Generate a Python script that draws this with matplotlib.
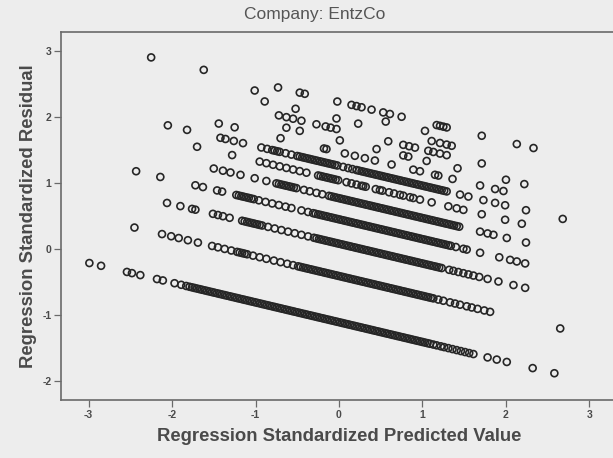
import matplotlib
matplotlib.use("Agg")
import matplotlib.pyplot as plt

plt.rcParams['font.family'] = ['Liberation Sans', 'DejaVu Sans']

title_text = "Company: EntzCo"
x_label = "Regression Standardized Predicted Value"
y_label = "Regression Standardized Residual"
x_ticks = [-3, -2, -1, 0, 1, 2, 3]
y_ticks = [-2, -1, 0, 1, 2, 3]

# Each band holds cases with the same observed score.
band_a_pred = [-2.99, -2.85, -2.54, -2.48, -2.38, -2.18, -2.11, -1.97, -1.89, -1.83,
               -1.79, -1.76, -1.73, -1.70, -1.67, -1.64, -1.61, -1.58, -1.55, -1.52,
               -1.49, -1.46, -1.43, -1.40, -1.37, -1.34, -1.31, -1.28, -1.25, -1.22,
               -1.19, -1.16, -1.13, -1.10, -1.07, -1.04, -1.01, -0.98, -0.95, -0.92,
               -0.89, -0.86, -0.83, -0.80, -0.77, -0.74, -0.71, -0.68, -0.65, -0.62,
               -0.59, -0.56, -0.53, -0.50, -0.47, -0.44, -0.41, -0.38, -0.35, -0.32,
               -0.29, -0.26, -0.23, -0.20, -0.17, -0.14, -0.11, -0.08, -0.05, -0.02,
               0.01, 0.04, 0.07, 0.10, 0.13, 0.16, 0.19, 0.22, 0.25, 0.28,
               0.31, 0.34, 0.37, 0.40, 0.43, 0.46, 0.49, 0.52, 0.55, 0.58,
               0.61, 0.64, 0.67, 0.70, 0.73, 0.76, 0.79, 0.82, 0.85, 0.88,
               0.91, 0.94, 0.97, 1.00, 1.03, 1.06, 1.09,
               1.13, 1.17, 1.22, 1.26, 1.31, 1.36, 1.41, 1.46, 1.51, 1.56,
               1.61, 1.78, 1.89, 2.01, 2.32, 2.58]
band_a_resid = [-0.213, -0.255, -0.348, -0.366, -0.396, -0.456, -0.477, -0.519, -0.543, -0.561,
                -0.573, -0.582, -0.591, -0.600, -0.609, -0.618, -0.627, -0.636, -0.645, -0.654,
                -0.663, -0.672, -0.681, -0.690, -0.699, -0.708, -0.717, -0.726, -0.735, -0.744,
                -0.753, -0.762, -0.771, -0.780, -0.789, -0.798, -0.807, -0.816, -0.825, -0.834,
                -0.843, -0.852, -0.861, -0.870, -0.879, -0.888, -0.897, -0.906, -0.915, -0.924,
                -0.933, -0.942, -0.951, -0.960, -0.969, -0.978, -0.987, -0.996, -1.005, -1.014,
                -1.023, -1.032, -1.041, -1.050, -1.059, -1.068, -1.077, -1.086, -1.095, -1.104,
                -1.113, -1.122, -1.131, -1.140, -1.149, -1.158, -1.167, -1.176, -1.185, -1.194,
                -1.203, -1.212, -1.221, -1.230, -1.239, -1.248, -1.257, -1.266, -1.275, -1.284,
                -1.293, -1.302, -1.311, -1.320, -1.329, -1.338, -1.347, -1.356, -1.365, -1.374,
                -1.383, -1.392, -1.401, -1.410, -1.419, -1.428, -1.437,
                -1.449, -1.461, -1.476, -1.488, -1.503, -1.518, -1.533, -1.548, -1.563, -1.578,
                -1.593, -1.644, -1.677, -1.713, -1.806, -1.884]

band_b_pred = [-2.45, -2.12, -2.01, -1.92, -1.81, -1.69, -1.52, -1.45, -1.37, -1.29,
               -1.22, -1.19, -1.16, -1.13, -1.10,
               -1.03, -0.95, -0.87, -0.78, -0.70, -0.62, -0.55,
               -0.49, -0.46, -0.43, -0.40, -0.37, -0.34, -0.31, -0.28, -0.25, -0.22,
               -0.19, -0.16, -0.13, -0.10, -0.07, -0.04, -0.01, 0.02, 0.05, 0.08,
               0.11, 0.14, 0.17, 0.20, 0.23, 0.26, 0.29, 0.32, 0.35, 0.38,
               0.41, 0.44, 0.47, 0.50, 0.53, 0.56, 0.59, 0.62, 0.65, 0.68,
               0.71, 0.74, 0.77, 0.80, 0.83, 0.86, 0.89, 0.92, 0.95, 0.98,
               1.01, 1.04, 1.07, 1.10, 1.13,
               1.19, 1.25, 1.33, 1.39, 1.45, 1.53, 1.59, 1.66, 1.74, 1.81, 2.65]
band_b_resid = [0.325, 0.226, 0.193, 0.166, 0.133, 0.097, 0.046, 0.025, 0.001, -0.023,
                -0.044, -0.053, -0.062, -0.071, -0.080,
                -0.101, -0.125, -0.149, -0.176, -0.200, -0.224, -0.245,
                -0.263, -0.272, -0.281, -0.290, -0.299, -0.308, -0.317, -0.326, -0.335, -0.344,
                -0.353, -0.362, -0.371, -0.380, -0.389, -0.398, -0.407, -0.416, -0.425, -0.434,
                -0.443, -0.452, -0.461, -0.470, -0.479, -0.488, -0.497, -0.506, -0.515, -0.524,
                -0.533, -0.542, -0.551, -0.560, -0.569, -0.578, -0.587, -0.596, -0.605, -0.614,
                -0.623, -0.632, -0.641, -0.650, -0.659, -0.668, -0.677, -0.686, -0.695, -0.704,
                -0.713, -0.722, -0.731, -0.740, -0.749,
                -0.767, -0.785, -0.809, -0.827, -0.845, -0.869, -0.887, -0.908, -0.932, -0.953, -1.205]

band_c_pred = [-2.06, -1.90, -1.76, -1.72, -1.51, -1.45, -1.39, -1.31,
               -1.16, -1.13, -1.10, -1.07, -1.04, -1.01, -0.98, -0.95, -0.92,
               -0.85, -0.77, -0.69, -0.61, -0.53, -0.45, -0.37,
               -0.30, -0.27, -0.24, -0.21, -0.18, -0.15, -0.12, -0.09, -0.06, -0.03,
               0.00, 0.03, 0.06, 0.09, 0.12, 0.15, 0.18, 0.21, 0.24, 0.27,
               0.30, 0.33, 0.36, 0.39, 0.42, 0.45, 0.48, 0.51, 0.54, 0.57,
               0.60, 0.63, 0.66, 0.69, 0.72, 0.75, 0.78, 0.81, 0.84, 0.87,
               0.90, 0.93, 0.96, 0.99, 1.02, 1.05, 1.08, 1.11, 1.14, 1.17, 1.20, 1.23,
               1.32, 1.37, 1.43, 1.49, 1.55, 1.61, 1.68, 1.78, 1.91, 2.09, 2.23]
band_c_resid = [0.698, 0.650, 0.608, 0.596, 0.533, 0.515, 0.497, 0.473,
                0.428, 0.419, 0.410, 0.401, 0.392, 0.383, 0.374, 0.365, 0.356,
                0.335, 0.311, 0.287, 0.263, 0.239, 0.215, 0.191,
                0.170, 0.161, 0.152, 0.143, 0.134, 0.125, 0.116, 0.107, 0.098, 0.089,
                0.080, 0.071, 0.062, 0.053, 0.044, 0.035, 0.026, 0.017, 0.008, -0.001,
                -0.010, -0.019, -0.028, -0.037, -0.046, -0.055, -0.064, -0.073, -0.082, -0.091,
                -0.100, -0.109, -0.118, -0.127, -0.136, -0.145, -0.154, -0.163, -0.172, -0.181,
                -0.190, -0.199, -0.208, -0.217, -0.226, -0.235, -0.244, -0.253, -0.262, -0.271, -0.280, -0.289,
                -0.316, -0.331, -0.349, -0.367, -0.385, -0.403, -0.424, -0.454, -0.493, -0.547, -0.589]

band_d_pred = [-2.43, -2.14, -1.72, -1.63, -1.46, -1.40,
               -1.23, -1.20, -1.17, -1.14, -1.11, -1.08, -1.05, -1.02,
               -0.96, -0.88, -0.80, -0.72, -0.64, -0.57, -0.45, -0.37,
               -0.31, -0.28, -0.25, -0.22, -0.19, -0.16, -0.13, -0.10, -0.07, -0.04,
               -0.01, 0.02, 0.05, 0.08, 0.11, 0.14, 0.17, 0.20, 0.23, 0.26,
               0.29, 0.32, 0.35, 0.38, 0.41, 0.44, 0.47, 0.50, 0.53, 0.56,
               0.59, 0.62, 0.65, 0.68, 0.71, 0.74, 0.77, 0.80, 0.83, 0.86,
               0.89, 0.92, 0.95, 0.98, 1.01, 1.04, 1.07, 1.10, 1.13, 1.16,
               1.19, 1.22, 1.25, 1.28, 1.31, 1.34,
               1.40, 1.49, 1.53, 1.69, 1.92, 2.05, 2.13, 2.23]
band_d_resid = [1.179, 1.092, 0.966, 0.939, 0.888, 0.870,
                0.819, 0.810, 0.801, 0.792, 0.783, 0.774, 0.765, 0.756,
                0.738, 0.714, 0.690, 0.666, 0.642, 0.621, 0.585, 0.561,
                0.543, 0.534, 0.525, 0.516, 0.507, 0.498, 0.489, 0.480, 0.471, 0.462,
                0.453, 0.444, 0.435, 0.426, 0.417, 0.408, 0.399, 0.390, 0.381, 0.372,
                0.363, 0.354, 0.345, 0.336, 0.327, 0.318, 0.309, 0.300, 0.291, 0.282,
                0.273, 0.264, 0.255, 0.246, 0.237, 0.228, 0.219, 0.210, 0.201, 0.192,
                0.183, 0.174, 0.165, 0.156, 0.147, 0.138, 0.129, 0.120, 0.111, 0.102,
                0.093, 0.084, 0.075, 0.066, 0.057, 0.048,
                0.030, 0.003, -0.009, -0.057, -0.126, -0.165, -0.189, -0.219]

band_e_pred = [-1.50, -1.39, -1.30, -1.18, -1.01, -0.87,
               -0.75, -0.72, -0.69, -0.66, -0.63, -0.60, -0.57, -0.54, -0.51,
               -0.42, -0.35, -0.27, -0.20,
               -0.12, -0.09, -0.06, -0.03, 0.00, 0.03, 0.06, 0.09, 0.12, 0.15,
               0.18, 0.21, 0.24, 0.27, 0.30, 0.33, 0.36, 0.39, 0.42, 0.45,
               0.48, 0.51, 0.54, 0.57, 0.60, 0.63, 0.66, 0.69, 0.72, 0.75,
               0.78, 0.81, 0.84, 0.87, 0.90, 0.93, 0.96, 0.99, 1.02, 1.05,
               1.08, 1.11, 1.14, 1.17, 1.20, 1.23, 1.26, 1.29, 1.32, 1.35,
               1.38, 1.41, 1.44,
               1.69, 1.78, 1.85, 2.01, 2.24]
band_e_resid = [1.220, 1.187, 1.160, 1.124, 1.073, 1.031,
                0.995, 0.986, 0.977, 0.968, 0.959, 0.950, 0.941, 0.932, 0.923,
                0.896, 0.875, 0.851, 0.830,
                0.806, 0.797, 0.788, 0.779, 0.770, 0.761, 0.752, 0.743, 0.734, 0.725,
                0.716, 0.707, 0.698, 0.689, 0.680, 0.671, 0.662, 0.653, 0.644, 0.635,
                0.626, 0.617, 0.608, 0.599, 0.590, 0.581, 0.572, 0.563, 0.554, 0.545,
                0.536, 0.527, 0.518, 0.509, 0.500, 0.491, 0.482, 0.473, 0.464, 0.455,
                0.446, 0.437, 0.428, 0.419, 0.410, 0.401, 0.392, 0.383, 0.374, 0.365,
                0.356, 0.347, 0.338,
                0.263, 0.236, 0.215, 0.167, 0.098]

band_f_pred = [-1.70, -1.28, -0.95, -0.87, -0.79, -0.71, -0.63, -0.55, -0.47, -0.39,
               -0.25, -0.22, -0.19, -0.16, -0.13, -0.10, -0.07, -0.04, -0.01,
               0.09, 0.15, 0.21, 0.27, 0.29, 0.32, 0.44, 0.49, 0.52, 0.60,
               0.66, 0.73, 0.77, 0.85, 0.89, 0.97, 1.11, 1.31, 1.41, 1.49,
               1.71, 1.99, 2.19]
band_f_resid = [1.550, 1.424, 1.325, 1.301, 1.277, 1.253, 1.229, 1.205, 1.181, 1.157,
                1.115, 1.106, 1.097, 1.088, 1.079, 1.070, 1.061, 1.052, 1.043,
                1.013, 0.995, 0.977, 0.959, 0.953, 0.944, 0.908, 0.893, 0.884, 0.860,
                0.842, 0.821, 0.809, 0.785, 0.773, 0.749, 0.707, 0.647, 0.617, 0.593,
                0.527, 0.443, 0.383]

band_g_pred = [-2.05, -1.82, -1.42, -1.36, -1.26, -1.15, -0.93, -0.86,
               -0.80, -0.77, -0.74, -0.71, -0.64, -0.57,
               -0.50, -0.47, -0.44, -0.41, -0.38, -0.35, -0.32, -0.29, -0.26, -0.23,
               -0.20, -0.17, -0.14, -0.11, -0.08, -0.05, -0.02,
               0.05, 0.11, 0.16,
               0.21, 0.24, 0.27, 0.30, 0.33, 0.36, 0.39, 0.42, 0.45, 0.48,
               0.51, 0.54, 0.57, 0.60, 0.63, 0.66, 0.69, 0.72, 0.75, 0.78,
               0.81, 0.84, 0.87, 0.90, 0.93, 0.96, 0.99, 1.02, 1.05, 1.08,
               1.11, 1.14, 1.17, 1.20, 1.23, 1.26, 1.29,
               1.45, 1.55, 1.73, 1.87, 1.99, 2.24, 2.68]
band_g_resid = [1.875, 1.806, 1.686, 1.668, 1.638, 1.605, 1.539, 1.518,
                1.500, 1.491, 1.482, 1.473, 1.452, 1.431,
                1.410, 1.401, 1.392, 1.383, 1.374, 1.365, 1.356, 1.347, 1.338, 1.329,
                1.320, 1.311, 1.302, 1.293, 1.284, 1.275, 1.266,
                1.245, 1.227, 1.212,
                1.197, 1.188, 1.179, 1.170, 1.161, 1.152, 1.143, 1.134, 1.125, 1.116,
                1.107, 1.098, 1.089, 1.080, 1.071, 1.062, 1.053, 1.044, 1.035, 1.026,
                1.017, 1.008, 0.999, 0.990, 0.981, 0.972, 0.963, 0.954, 0.945, 0.936,
                0.927, 0.918, 0.909, 0.900, 0.891, 0.882, 0.873,
                0.825, 0.795, 0.741, 0.699, 0.663, 0.588, 0.456]

band_h_pred = [-1.44, -1.25, -0.70, -0.18, -0.15, 0.07, 0.19, 0.31, 0.43, 0.63,
               0.89, 0.97, 1.15, 1.19, 1.36, 1.69, 1.87, 1.97]
band_h_resid = [1.902, 1.845, 1.680, 1.524, 1.515, 1.449, 1.413, 1.377, 1.341, 1.281,
                1.203, 1.179, 1.125, 1.113, 1.062, 0.963, 0.909, 0.879]

band_i_pred = [-0.63, -0.47, 0.01, 0.45, 0.77, 0.83, 1.05, 1.42, 2.00, 2.22]
band_i_resid = [1.839, 1.791, 1.647, 1.515, 1.419, 1.401, 1.335, 1.224, 1.050, 0.984]

band_j_pred = [-0.72, -0.63, -0.55, -0.45, -0.27, -0.16, -0.10, -0.03, 0.59,
               0.77, 0.84, 0.91, 1.07, 1.13, 1.21, 1.29, 1.71]
band_j_resid = [2.026, 1.999, 1.975, 1.945, 1.891, 1.858, 1.840, 1.819, 1.633,
                1.579, 1.558, 1.537, 1.489, 1.471, 1.447, 1.423, 1.297]

band_k_pred = [-0.89, -0.52, -0.03, 0.23, 1.11, 1.21, 1.29, 1.35]
band_k_resid = [2.237, 2.126, 1.979, 1.901, 1.637, 1.607, 1.583, 1.565]

band_l_pred = [-1.01, 0.56, 1.03]
band_l_resid = [2.403, 1.932, 1.791]

band_m_pred = [-2.25, -1.62, -0.73, -0.47, -0.41, -0.02, 0.15, 0.21, 0.27, 0.39,
               0.53, 0.61, 0.75, 1.17, 1.21, 1.25, 1.29, 1.71, 2.13, 2.33]
band_m_resid = [2.905, 2.716, 2.449, 2.371, 2.353, 2.236, 2.185, 2.167, 2.149, 2.113,
                2.071, 2.047, 2.005, 1.879, 1.867, 1.855, 1.843, 1.717, 1.591, 1.531]

bands = [
    (band_a_pred, band_a_resid), (band_b_pred, band_b_resid),
    (band_c_pred, band_c_resid), (band_d_pred, band_d_resid),
    (band_e_pred, band_e_resid), (band_f_pred, band_f_resid),
    (band_g_pred, band_g_resid), (band_h_pred, band_h_resid),
    (band_i_pred, band_i_resid), (band_j_pred, band_j_resid),
    (band_k_pred, band_k_resid), (band_l_pred, band_l_resid),
    (band_m_pred, band_m_resid),
]

bg = '#ededed'
ink = '#262626'
grey_text = '#4a4a4a'
spine_col = '#6a6a6a'

fig = plt.figure(figsize=(6.13, 4.58), dpi=100, facecolor=bg)
ax = fig.add_axes([0.0995, 0.1266, 0.907, 0.8035], facecolor=bg)

for pred, resid in bands:
    ax.scatter(pred, resid, s=25, facecolors='none', edgecolors=ink,
               linewidths=1.2, zorder=3)

ax.set_xlim(-3.33, 3.33)
ax.set_ylim(-2.29, 3.29)
ax.set_xticks(x_ticks)
ax.set_yticks(y_ticks)
ax.set_xticklabels([str(v) for v in x_ticks])
ax.set_yticklabels([str(v) for v in y_ticks])

for side in ['left', 'top', 'bottom']:
    ax.spines[side].set_color(spine_col)
    ax.spines[side].set_linewidth(1.2)
ax.spines['right'].set_visible(False)

ax.tick_params(axis='both', direction='out', length=5, width=0.9,
               color=spine_col, labelsize=7.5, labelcolor=grey_text, pad=2)
for lab in ax.get_xticklabels() + ax.get_yticklabels():
    lab.set_fontweight('bold')

ax.set_xlabel(x_label, fontsize=13.3, fontweight='bold', color=grey_text, labelpad=6)
ax.set_ylabel(y_label, fontsize=13.3, fontweight='bold', color=grey_text, labelpad=4)

fig.text(315 / 613, 1 - 15 / 458, title_text, ha='center', va='center',
         fontsize=12.5, color='#555555')

fig.savefig('out.png', dpi=100, facecolor=bg)
